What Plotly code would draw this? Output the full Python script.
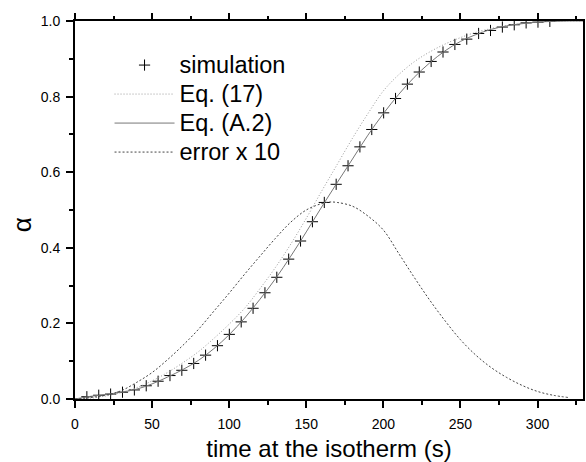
import plotly.graph_objects as go

# simulation points
sim_t = [7.7, 15.4, 23.1, 30.8, 38.5, 46.2, 53.9, 61.6, 69.3, 77.0, 84.7, 92.4,
         100.1, 107.8, 115.5, 123.2, 130.9, 138.6, 146.3, 154.0, 161.7, 169.4,
         177.1, 184.8, 192.5, 200.2, 207.9, 215.6, 223.3, 231.0, 238.7, 246.4,
         254.1, 261.8, 269.5, 277.2, 284.9, 292.6, 300.3, 308.0]
sim_a = [0.006, 0.010, 0.013, 0.018, 0.024, 0.035, 0.047, 0.062, 0.076, 0.094,
         0.116, 0.141, 0.171, 0.204, 0.240, 0.281, 0.322, 0.370, 0.418, 0.469,
         0.520, 0.568, 0.617, 0.667, 0.713, 0.757, 0.795, 0.833, 0.865, 0.893,
         0.918, 0.938, 0.952, 0.967, 0.975, 0.984, 0.990, 0.995, 0.997, 0.999]

# model curves
curve_t = [0, 10, 20, 30, 40, 50, 60, 70, 80, 90, 100, 110, 120, 130, 140, 150,
           160, 170, 180, 190, 200, 210, 220, 230, 240, 250, 260, 270, 280, 290,
           300, 310, 320, 330]
eq17 = [0.000, 0.002, 0.008, 0.017, 0.030, 0.048, 0.070, 0.096, 0.125, 0.160,
        0.198, 0.240, 0.292, 0.348, 0.410, 0.478, 0.550, 0.620, 0.690, 0.755,
        0.815, 0.858, 0.892, 0.918, 0.939, 0.956, 0.970, 0.980, 0.988, 0.993,
        0.997, 0.999, 1.000, 1.000]
eqA2 = [0.000, 0.007, 0.012, 0.018, 0.026, 0.040, 0.058, 0.078, 0.102, 0.133,
        0.170, 0.214, 0.264, 0.318, 0.378, 0.442, 0.508, 0.572, 0.635, 0.698,
        0.755, 0.806, 0.851, 0.889, 0.921, 0.946, 0.964, 0.978, 0.987, 0.993,
        0.997, 0.999, 1.000, 1.000]
err_t = [0, 10, 20, 30, 40, 50, 60, 70, 80, 90, 100, 110, 120, 130, 140, 150,
         160, 165, 170, 180, 190, 200, 210, 220, 230, 240, 250, 260, 270, 280,
         290, 300, 310, 320]
err10 = [0.000, 0.004, 0.010, 0.022, 0.044, 0.070, 0.104, 0.142, 0.184, 0.232,
         0.280, 0.330, 0.378, 0.425, 0.468, 0.500, 0.517, 0.521, 0.520, 0.510,
         0.484, 0.447, 0.385, 0.322, 0.262, 0.207, 0.157, 0.116, 0.083, 0.057,
         0.036, 0.020, 0.010, 0.004]

FONT = "Liberation Sans, Arial, sans-serif"


def big(s):
    return "<span style='font-size:23.5px'>" + s + "</span>"


fig = go.Figure()
fig.add_trace(go.Scatter(
    x=sim_t, y=sim_a, mode="markers", name=big("simulation"),
    marker=dict(symbol="cross-thin", size=8, line=dict(width=1, color="black"),
                color="black")))
fig.add_trace(go.Scatter(
    x=curve_t, y=eq17, mode="lines", name=big("Eq. (17)"), line_shape="spline",
    line=dict(color="#999", width=1, dash="1px,2px")))
fig.add_trace(go.Scatter(
    x=curve_t, y=eqA2, mode="lines", name=big("Eq. (A.2)"), line_shape="spline",
    line=dict(color="#777", width=1)))
fig.add_trace(go.Scatter(
    x=err_t, y=err10, mode="lines", name=big("error x 10"), line_shape="spline",
    line=dict(color="#444", width=1, dash="2px,2px")))
# invisible copy of the simulation so that the top tick axis is drawn
fig.add_trace(go.Scatter(x=sim_t, y=sim_a, xaxis="x2", mode="markers",
                         opacity=0, showlegend=False, hoverinfo="skip"))

tick_common = dict(
    ticks="outside", ticklen=7, tickwidth=2, tickcolor="black",
    showgrid=False, zeroline=False,
    tickfont=dict(family=FONT, size=14, color="black"),
)
minor_common = dict(ticks="outside", ticklen=4, tickwidth=1.5,
                    tickcolor="black", showgrid=False)

fig.update_layout(
    xaxis=dict(
        range=[0, 329.5], dtick=50, tick0=0, mirror=True,
        showline=True, linecolor="black", linewidth=2, ticklabelstandoff=4,
        minor=dict(dtick=25, **minor_common),
        title=dict(text="time at the isotherm (s)",
                   font=dict(family=FONT, size=24, color="black"), standoff=11),
        **tick_common),
    xaxis2=dict(
        range=[0, 329.5], dtick=50, tick0=0, overlaying="x", side="top",
        anchor="y", showline=False, showticklabels=False,
        minor=dict(dtick=25, **minor_common),
        **tick_common),
    yaxis=dict(
        range=[0, 1], dtick=0.2, tick0=0, tickformat=".1f", mirror=True,
        showline=True, linecolor="black", linewidth=2, ticklabelstandoff=3,
        minor=dict(dtick=0.1, **minor_common),
        **tick_common),
)

fig.add_annotation(
    text="α", xref="paper", yref="paper", x=-0.104, y=0.46,
    xanchor="center", yanchor="middle",
    showarrow=False, textangle=-90,
    font=dict(family=FONT, size=26, color="black"))

fig.update_layout(
    width=586, height=462,
    margin=dict(l=75, r=1, t=21, b=63),
    paper_bgcolor="white", plot_bgcolor="white",
    showlegend=True,
    legend=dict(x=0.068, y=0.935, xanchor="left", yanchor="top",
                bgcolor="rgba(0,0,0,0)", itemwidth=60,
                font=dict(family=FONT, size=20, color="black"),
                tracegroupgap=0),
)

fig.write_html("out.html")
